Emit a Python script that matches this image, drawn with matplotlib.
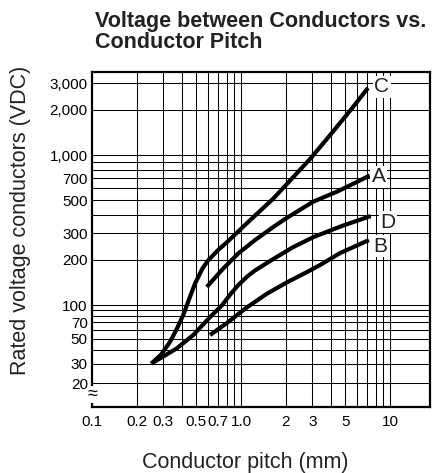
import numpy as np
import matplotlib
matplotlib.use("Agg")
import matplotlib.pyplot as plt
from matplotlib.ticker import FixedLocator, FixedFormatter, NullFormatter

plt.rcParams['font.family'] = ['Liberation Sans', 'DejaVu Sans']

# curve data (pitch mm, rated voltage VDC)
c_x = [0.25, 0.29, 0.334, 0.37, 0.41, 0.455, 0.491, 0.55, 0.6, 0.7, 0.822, 1.12, 1.65, 2.9, 3.96, 5.4, 7.1]
c_y = [30, 36, 47, 61, 82, 114, 139, 175, 198, 232, 268, 359, 514, 940, 1360, 1980, 2800]
a_x = [0.589, 0.742, 0.958, 1.24, 1.65, 2.0, 3.05, 4.4, 5.6, 7.3]
a_y = [132, 171, 221, 271, 332, 378, 489, 570, 640, 730]
d_x = [0.25, 0.286, 0.37, 0.478, 0.619, 0.742, 0.86, 0.958, 1.1, 1.24, 1.65, 2.23, 3.04, 4.61, 7.4]
d_y = [30, 33.4, 41, 54, 78, 99, 120, 136, 155, 170, 203, 243, 283, 333, 392]
b_x = [0.619, 0.802, 1.09, 1.49, 2.04, 2.77, 3.39, 4.61, 7.2]
b_y = [54, 69, 95, 119, 142, 166, 185, 222, 271]

curve_names = ['C', 'A', 'D', 'B']
label_x = [8.8, 8.4, 9.7, 8.6]
label_y = [2840, 714, 357, 247]

x_major = [0.1, 0.2, 0.3, 0.5, 0.7, 1.0, 2, 3, 5, 10]
x_major_lbl = ['0.1', '0.2', '0.3', '0.5', '0.7', '1.0', '2', '3', '5', '10']
x_minor = [0.4, 0.6, 0.8, 0.9, 4, 6, 7, 8, 9]
y_major = [20, 30, 50, 70, 100, 200, 300, 500, 700, 1000, 2000, 3000]
y_major_lbl = ['20', '30', '50', '70', '100', '200', '300', '500', '700', '1,000', '2,000', '3,000']
y_minor = [40, 60, 80, 90, 400, 600, 800, 900]

# below 100 V the original chart squeezes the decade
K = 112 / 150


def fwd(y):
    t = np.log10(np.clip(np.asarray(y, float), 1e-6, None))
    return np.where(t >= 2, t, 2 - (2 - t) * K)


def inv(s):
    s = np.asarray(s, float)
    with np.errstate(over='ignore'):
        return np.where(s >= 2, 10.0 ** s, 10.0 ** (2 - (2 - s) / K))


fig = plt.figure(figsize=(4.32, 4.73), dpi=100)
ax = fig.add_axes([92 / 432, 1 - 407 / 473, 338 / 432, 335 / 473])

ax.set_xscale('log')
ax.set_yscale('function', functions=(fwd, inv))
ax.set_xlim(0.1, 18.5)
ax.set_ylim(12.3, 3575)

ax.xaxis.set_major_locator(FixedLocator(x_major))
ax.xaxis.set_major_formatter(FixedFormatter(x_major_lbl))
ax.xaxis.set_minor_locator(FixedLocator(x_minor))
ax.xaxis.set_minor_formatter(NullFormatter())
ax.yaxis.set_major_locator(FixedLocator(y_major))
ax.yaxis.set_major_formatter(FixedFormatter(y_major_lbl))
ax.yaxis.set_minor_locator(FixedLocator(y_minor))
ax.yaxis.set_minor_formatter(NullFormatter())

ax.grid(True, which='both', color='black', lw=0.75)
ax.tick_params(which='both', length=0, labelsize=11, colors='black')
ax.tick_params(axis='x', pad=6)
ax.tick_params(axis='y', pad=3)
for sp in ax.spines.values():
    sp.set_linewidth(1.6)

for xs, ys in [(c_x, c_y), (a_x, a_y), (d_x, d_y), (b_x, b_y)]:
    ax.plot(xs, ys, color='black', lw=3.0, solid_joinstyle='round', solid_capstyle='butt')

for name, lx, ly in zip(curve_names, label_x, label_y):
    ax.text(lx, ly, name, fontsize=15, ha='center', va='center', color='#222222',
            bbox=dict(facecolor='white', edgecolor='none', pad=1))

# axis break mark on the y axis
ax.text(0.0, 0.036, '\u2248', transform=ax.transAxes, fontsize=13, ha='center', va='center',
        clip_on=False, bbox=dict(facecolor='white', edgecolor='none', pad=0))

fig.text(95 / 432, 1 - 11 / 473, 'Voltage between Conductors vs.\nConductor Pitch',
         fontsize=15.5, fontweight='bold', ha='left', va='top', linespacing=0.98, color='#222222')
fig.text(245 / 432, 1 - 462 / 473, 'Conductor pitch (mm)', fontsize=15.5,
         ha='center', va='center', color='#222222')
fig.text(21 / 432, 1 - 220 / 473, 'Rated voltage conductors (VDC)', fontsize=15.5,
         rotation=90, ha='center', va='center', color='#222222')

fig.savefig('out.png', dpi=100)
